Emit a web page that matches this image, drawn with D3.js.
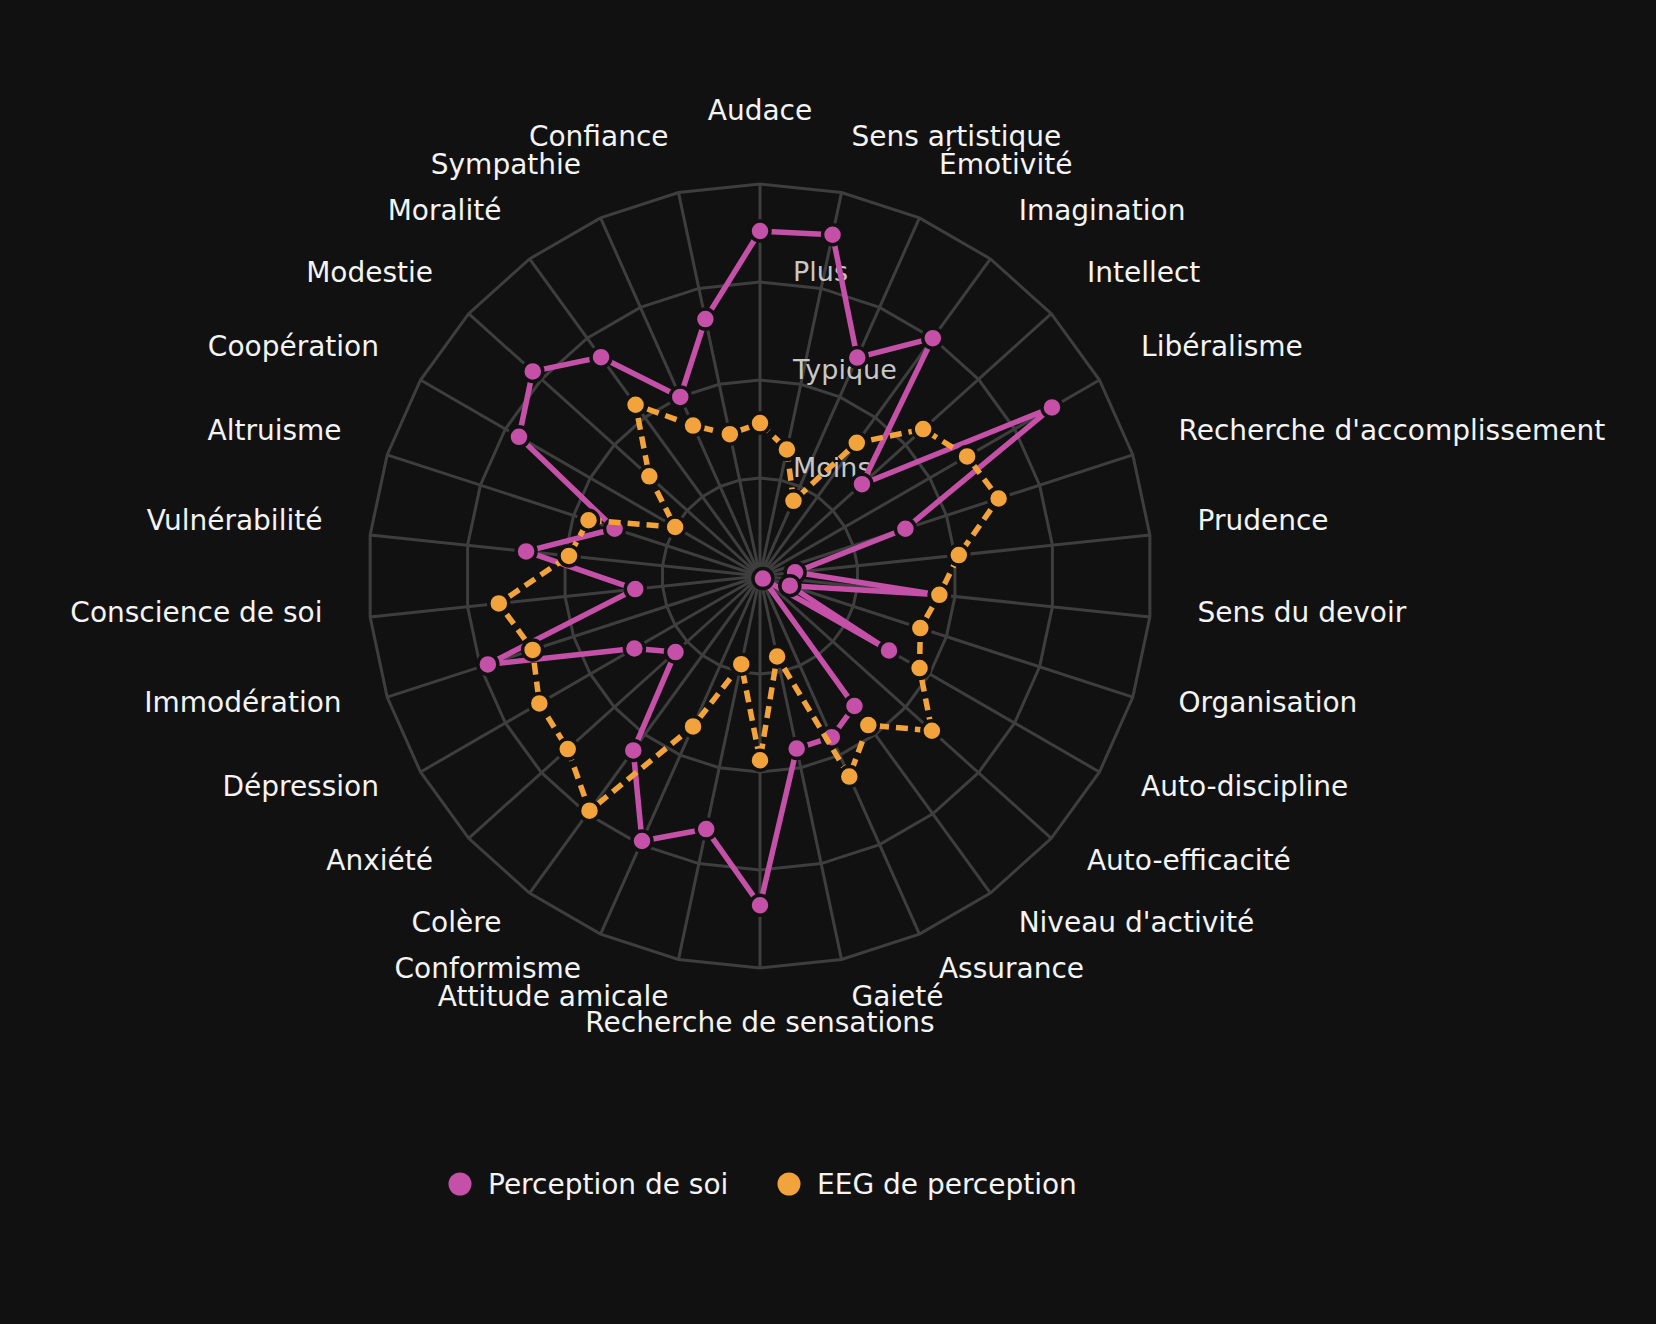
<!DOCTYPE html>
<html>
<head>
<meta charset="utf-8">
<script src="https://cdn.jsdelivr.net/npm/d3@7"></script>
<style>
  html, body { margin: 0; padding: 0; background: #111111; }
  svg { display: block; }
  text { font-family: "DejaVu Sans", "Noto Sans", sans-serif; }
</style>
</head>
<body>
<div id="chart"></div>
<script>
// Facettes de personnalité, dans le sens horaire depuis le haut
const categories = [
  "Audace", "Sens artistique", "Émotivité", "Imagination", "Intellect", "Libéralisme",
  "Recherche d'accomplissement", "Prudence", "Sens du devoir", "Organisation",
  "Auto-discipline", "Auto-efficacité", "Niveau d'activité", "Assurance", "Gaieté",
  "Recherche de sensations", "Attitude amicale", "Conformisme", "Colère", "Anxiété",
  "Dépression", "Immodération", "Conscience de soi", "Vulnérabilité", "Altruisme",
  "Coopération", "Modestie", "Moralité", "Sympathie", "Confiance"
];

const selfPerception = [88, 89, 61, 75, 35, 86, 39, 9, 46, 8, 38, 1, 41, 45, 45,
  84, 66, 74, 55, 29, 37, 73, 32, 60, 39, 71, 78, 69, 50, 67];
const eegPerception = [39, 33, 21, 42, 56, 61, 64, 51, 46, 43, 47, 59, 47, 56, 21,
  47, 23, 42, 74, 66, 65, 61, 67, 49, 46, 25, 38, 54, 42, 37];

const seriesNames = ["Perception de soi", "EEG de perception"];
const levels = [25, 50, 75, 100];
const levelLabels = ["Moins", "Typique", "Plus"];

const width = 1656, height = 1324;
const cx = 760, cy = 576, radius = 392;

const svg = d3.select("#chart").append("svg")
  .attr("width", width).attr("height", height);

svg.append("rect").attr("width", width).attr("height", height).attr("fill", "#111111");

const g = svg.append("g").attr("transform", `translate(${cx},${cy})`);

const r = d3.scaleLinear().domain([0, 100]).range([0, radius]);
const angle = d3.scaleLinear().domain([0, categories.length]).range([0, 2 * Math.PI]);

// grille
const ring = d3.lineRadial()
  .angle((d, i) => angle(i))
  .radius(d => r(d))
  .curve(d3.curveLinearClosed);

const grid = g.append("g");
levels.forEach(lv => {
  grid.append("path")
    .attr("d", ring(categories.map(() => lv)))
    .attr("fill", "none")
    .attr("stroke", "#3e3e3e")
    .attr("stroke-width", 3);
});
grid.selectAll("line").data(categories).join("line")
  .attr("x1", 0).attr("y1", 0)
  .attr("x2", (d, i) => r(100) * Math.sin(angle(i)))
  .attr("y2", (d, i) => -r(100) * Math.cos(angle(i)))
  .attr("stroke", "#3e3e3e")
  .attr("stroke-width", 3);

// libellés des niveaux
g.append("g").selectAll("text").data(levelLabels).join("text")
  .attr("x", 33)
  .attr("y", (d, i) => -r(levels[i]) - 1)
  .attr("font-size", 27)
  .attr("fill", "#c8c8c8")
  .text(d => d);

// libellés des axes
const labelR = radius + 48;
g.append("g").selectAll("text").data(categories).join("text")
  .each(function (d, i) {
    const a = angle(i);
    const s = Math.sin(a), c = Math.cos(a);
    let anchor = "middle", dy = 0;
    if (s > 0.01) anchor = "start";
    else if (s < -0.01) anchor = "end";
    else dy = c > 0 ? -16 : 16;
    d3.select(this)
      .attr("x", labelR * s)
      .attr("y", -labelR * c + dy)
      .attr("text-anchor", anchor);
  })
  .attr("font-size", 28)
  .attr("fill", "#f4f4f4")
  .text(d => d);

// séries
const series = [
  { name: seriesNames[0], values: selfPerception, color: "#c550a8", dash: null },
  { name: seriesNames[1], values: eegPerception, color: "#f2a33c", dash: "12 7" }
];

const line = d3.lineRadial()
  .angle((d, i) => angle(i))
  .radius(d => r(d))
  .curve(d3.curveLinearClosed);

series.forEach(s => {
  const sg = g.append("g");
  sg.append("path")
    .attr("d", line(s.values))
    .attr("fill", "none")
    .attr("stroke", s.color)
    .attr("stroke-width", 5.5)
    .attr("stroke-linejoin", "round")
    .attr("stroke-dasharray", s.dash);
  sg.selectAll("circle").data(s.values).join("circle")
    .attr("cx", (d, i) => r(d) * Math.sin(angle(i)))
    .attr("cy", (d, i) => -r(d) * Math.cos(angle(i)))
    .attr("r", 10)
    .attr("fill", s.color)
    .attr("stroke", "#111111")
    .attr("stroke-width", 3.5);
});

// légende
const legend = svg.append("g").attr("transform", "translate(0,1184)");
const legendX = [460, 789];
series.forEach((s, i) => {
  legend.append("circle")
    .attr("cx", legendX[i]).attr("cy", 0).attr("r", 11.5)
    .attr("fill", s.color);
  legend.append("text")
    .attr("x", legendX[i] + 28).attr("y", 10)
    .attr("font-size", 28)
    .attr("fill", "#f4f4f4")
    .text(s.name);
});
</script>
</body>
</html>
